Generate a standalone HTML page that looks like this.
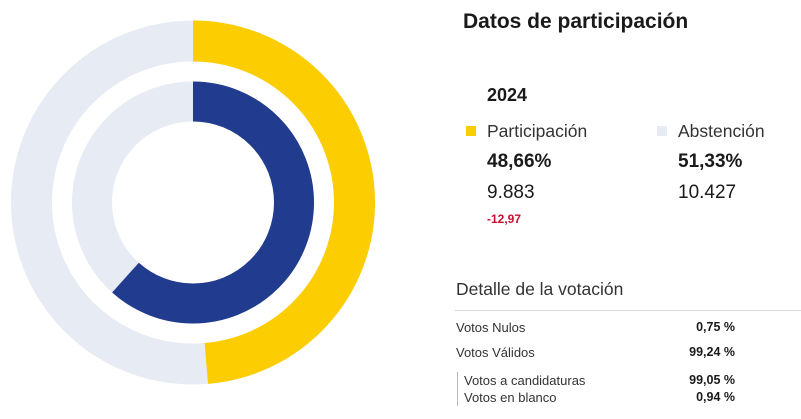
<!DOCTYPE html>
<html><head><meta charset="utf-8"><style>
body{margin:0;width:801px;height:419px;background:#fff;position:relative;overflow:hidden;font-family:"Liberation Sans",sans-serif;color:#1a1a1a}
.t{position:absolute;white-space:nowrap;line-height:1}
.sq{position:absolute;width:10px;height:10px}
.r{position:absolute;white-space:nowrap;line-height:1;text-align:right}
</style></head><body>
<svg width="801" height="419" style="position:absolute;left:0;top:0">
<g transform="translate(193,202.5) rotate(-90)">
<circle r="161.5" fill="none" stroke="#e7ebf4" stroke-width="41"/>
<circle r="161.5" fill="none" stroke="#fccd00" stroke-width="41" stroke-dasharray="493.8 2000"/>
<circle r="101" fill="none" stroke="#e7ebf4" stroke-width="40"/>
<circle r="101" fill="none" stroke="#213b8e" stroke-width="40" stroke-dasharray="391.1 2000"/>
</g>
</svg>
<div class="t" style="left:463px;top:11px;font-size:21px;font-weight:bold">Datos de participación</div>
<div class="t" style="left:487px;top:86px;font-size:18px;font-weight:bold">2024</div>
<div class="sq" style="left:466px;top:126px;background:#fccd00"></div>
<div class="t" style="left:487px;top:123px;font-size:17.5px;color:#333">Participación</div>
<div class="t" style="left:487px;top:152px;font-size:19px;font-weight:bold">48,66%</div>
<div class="t" style="left:487px;top:183px;font-size:19px">9.883</div>
<div class="t" style="left:487px;top:213px;font-size:12px;font-weight:bold;color:#c8102e">-12,97</div>
<div class="sq" style="left:657px;top:126px;background:#e7ebf4"></div>
<div class="t" style="left:678px;top:123px;font-size:17.5px;color:#333">Abstención</div>
<div class="t" style="left:678px;top:152px;font-size:19px;font-weight:bold">51,33%</div>
<div class="t" style="left:678px;top:183px;font-size:19px">10.427</div>
<div class="t" style="left:456px;top:281px;font-size:17.5px;color:#333">Detalle de la votación</div>
<div style="position:absolute;left:455px;top:310px;width:346px;height:1px;background:#d8dae2"></div>
<div class="t" style="left:456px;top:321px;font-size:13px;color:#333">Votos Nulos</div>
<div class="r" style="right:66px;top:321px;font-size:12.5px;font-weight:bold">0,75 %</div>
<div class="t" style="left:456px;top:346px;font-size:13px;color:#333">Votos Válidos</div>
<div class="r" style="right:66px;top:346px;font-size:12.5px;font-weight:bold">99,24 %</div>
<div style="position:absolute;left:457px;top:372px;width:1px;height:34px;background:#bbb"></div>
<div class="t" style="left:464px;top:374px;font-size:13px;color:#333">Votos a candidaturas</div>
<div class="r" style="right:66px;top:374px;font-size:12.5px;font-weight:bold">99,05 %</div>
<div class="t" style="left:464px;top:391px;font-size:13px;color:#333">Votos en blanco</div>
<div class="r" style="right:66px;top:391px;font-size:12.5px;font-weight:bold">0,94 %</div>
</body></html>
